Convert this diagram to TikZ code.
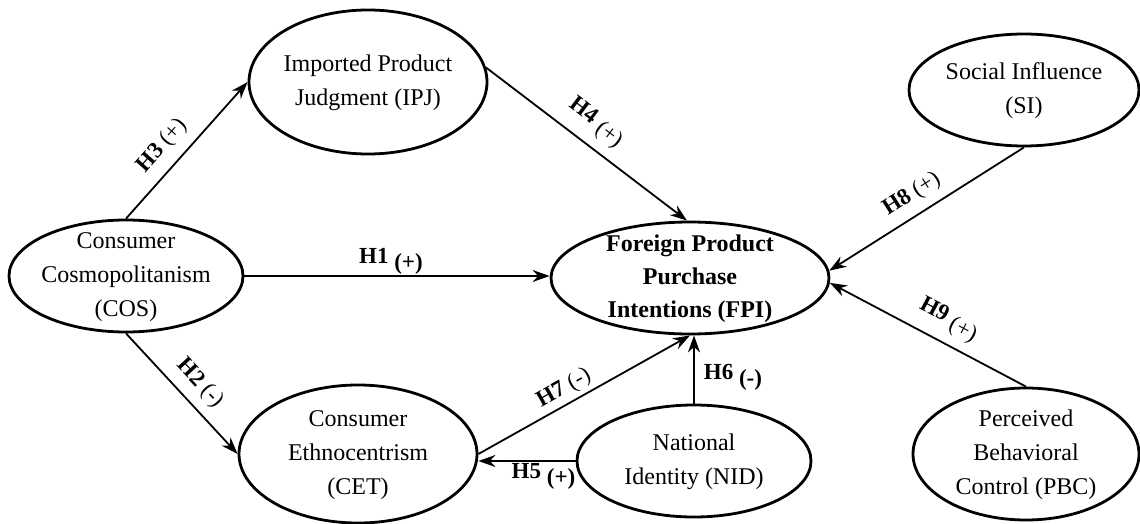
\documentclass[tikz,border=0pt]{standalone}
\usepackage{fontspec}
\setmainfont{Liberation Serif}
\usetikzlibrary{shapes.geometric,arrows.meta,calc}
\newcommand{\ctext}[1]{\smash{\makebox[0pt]{\raisebox{-6pt}{\begin{tabular}{@{}c@{}}#1\end{tabular}}}}}
\newcommand{\hsigb}[1]{\raisebox{-6pt}{\fontsize{23}{23}\selectfont\bfseries #1}}
\newcommand{\hsign}[1]{\raisebox{-4pt}{\fontsize{23}{23}\selectfont\mdseries #1}}
\newcommand{\hsigm}[1]{{\fontsize{23}{23}\selectfont\mdseries #1}}
\tikzset{
  construct/.style={ellipse, draw, line width=2.8pt, inner sep=0pt, font=\fontsize{24}{34}\selectfont},
  link/.style={line width=1.8pt, -{Stealth[length=17pt,width=12pt]}},
  hlab/.style={font=\fontsize{23}{23}\selectfont\bfseries, inner sep=0pt},
}
\begin{document}
\begin{tikzpicture}[x=1pt,y=1pt]
\useasboundingbox (0,0) rectangle (1140,-524);
\node[construct, minimum width=238pt, minimum height=144pt] (IPJ) at (368,-82) {\ctext{Imported Product\\Judgment (IPJ)}};
\node[construct, minimum width=230pt, minimum height=112pt] (SI) at (1024,-90) {\ctext{Social Influence\\(SI)}};
\node[construct, minimum width=234pt, minimum height=112pt] (COS) at (126,-276) {\ctext{Consumer\\Cosmopolitanism\\(COS)}};
\node[construct, minimum width=278pt, minimum height=112pt, font=\fontsize{24}{33}\selectfont\bfseries] (FPI) at (690,-278) {\ctext{Foreign Product\\Purchase\\Intentions (FPI)}};
\node[construct, minimum width=238pt, minimum height=138pt] (CET) at (358,-454) {\ctext{Consumer\\Ethnocentrism\\(CET)}};
\node[construct, minimum width=234pt, minimum height=112pt] (NID) at (694,-461) {\ctext{National\\Identity (NID)}};
\node[construct, minimum width=226pt, minimum height=132pt] (PBC) at (1026,-454) {\ctext{Perceived\\Behavioral\\Control (PBC)}};

\draw[link] (COS.north) -- node[hlab, sloped, pos=.43, above=10pt] {H3 \hsigm{(+)}} (IPJ.west);
\draw[link] (IPJ.7) -- node[hlab, sloped, pos=.48, above=9pt] {H4 \hsign{(+)}} (FPI.93);
\draw[link] (COS.east) -- node[hlab, pos=.48, above=1pt] {H1 \hsigb{(+)}} (COS.east -| FPI.west);
\draw[link] (COS.south) -- node[hlab, sloped, pos=.53, above=9pt] {H2 \hsigm{(-)}} (CET.west);
\draw[link] (CET.east) -- node[hlab, sloped, pos=.44, above=4pt] {H7 \hsigm{(-)}} (FPI.south);
\draw[link] (NID.west) -- node[hlab, pos=.33, below=2pt] {H5 \hsigb{(+)}} (NID.west -| CET.east);
\draw[link] (NID.north) -- node[hlab, pos=.38, right=9pt] {H6 \hsigb{(-)}} (NID.north |- FPI.south);
\draw[link] (SI.south) -- node[hlab, sloped, pos=.52, above=9pt] {H8 \hsigm{(+)}} (FPI.3);
\draw[link] (PBC.north) -- node[hlab, sloped, pos=.45, above=9pt] {H9 \hsign{(+)}} (FPI.-2);
\end{tikzpicture}
\end{document}
